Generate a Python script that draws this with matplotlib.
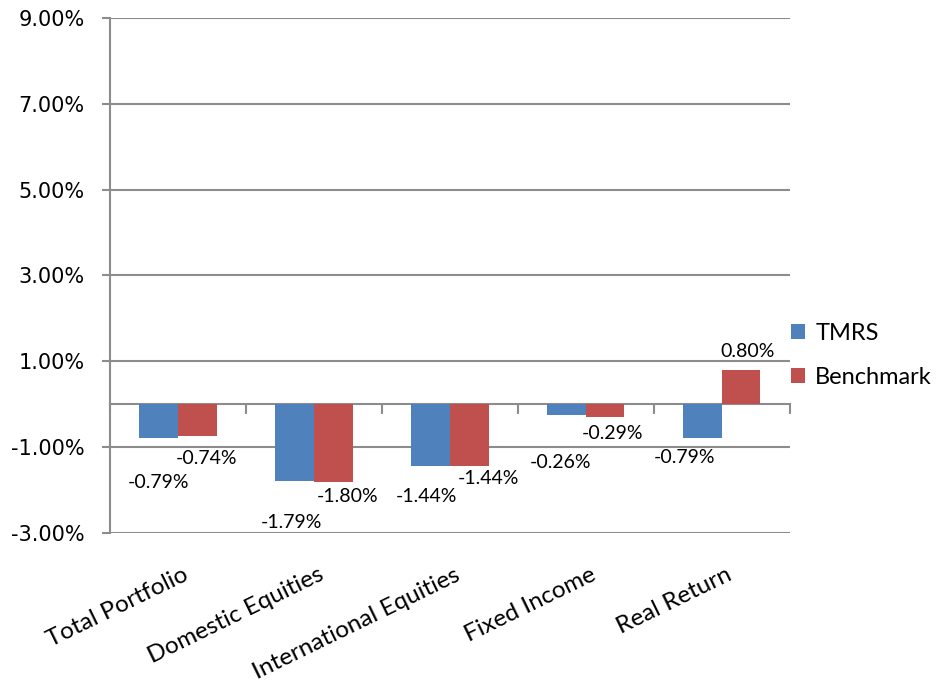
import numpy as np
import matplotlib.pyplot as plt
from matplotlib.transforms import blended_transform_factory

categories = ["Total Portfolio", "Domestic Equities", "International Equities",
              "Fixed Income", "Real Return"]
tmrs = [-0.79, -1.79, -1.44, -0.26, -0.79]
benchmark = [-0.74, -1.80, -1.44, -0.29, 0.80]

# label nudges (points) so the value labels do not collide
tmrs_off = [(0, -32), (-2, -30), (-3, -22), (-4, -34), (-13, -14)]
bench_off = [(7, -16), (10, -11), (14, -9), (5, -12), (5, 13)]

blue = "#4F81BD"
red = "#C0504D"
grid_c = "#8C8C8C"
lab_font = "Lato"

fig = plt.figure(figsize=(9.39, 6.87), dpi=100)
ax = fig.add_axes([0.117, 0.224, 0.724, 0.75])

x = np.arange(len(categories))
w = 0.285
b1 = ax.bar(x - w / 2, tmrs, w, color=blue, label="TMRS", zorder=3)
b2 = ax.bar(x + w / 2, benchmark, w, color=red, label="Benchmark", zorder=3)

for bars, vals, offs in [(b1, tmrs, tmrs_off), (b2, benchmark, bench_off)]:
    for bar, v, (dx, dy) in zip(bars, vals, offs):
        ax.annotate(f"{v:.2f}%", (bar.get_x() + bar.get_width() / 2, v),
                    xytext=(dx, dy), textcoords="offset points",
                    ha="center", va="center", fontsize=14, family=lab_font)

ax.set_xlim(-0.5, len(categories) - 0.5)
ax.set_ylim(-3, 9)
ax.set_yticks(np.arange(-3, 10, 2))
ax.set_yticklabels([f"{t:.2f}%" for t in np.arange(-3, 10, 2)], fontsize=15)
ax.yaxis.grid(True, color=grid_c, linewidth=1.5, zorder=0)
ax.tick_params(axis="y", length=6, width=1.5, color=grid_c, pad=12)

# category axis runs along zero with ticks between groups
ax.spines["bottom"].set_position(("data", 0))
ax.spines["bottom"].set_color(grid_c)
ax.spines["bottom"].set_linewidth(1.5)
ax.set_xticks(np.arange(-0.5, len(categories), 1.0))
ax.set_xticklabels([])
ax.tick_params(axis="x", length=7, width=1.5, color=grid_c, direction="out")
for s in ["top", "right"]:
    ax.spines[s].set_visible(False)
ax.spines["left"].set_color(grid_c)
ax.spines["left"].set_linewidth(1.5)

tr = blended_transform_factory(ax.transData, ax.transAxes)
for i, c in enumerate(categories):
    ax.text(i + 0.03, -0.06, c, transform=tr, rotation=26, ha="right", va="top",
            rotation_mode="anchor", fontsize=17.5, family=lab_font)

ax.legend(loc="center left", bbox_to_anchor=(0.97, 0.345), frameon=False,
          prop={"family": lab_font, "size": 17}, handlelength=0.6,
          handleheight=0.6, handletextpad=0.45, labelspacing=1.0)

fig.savefig("out.png", dpi=100)
